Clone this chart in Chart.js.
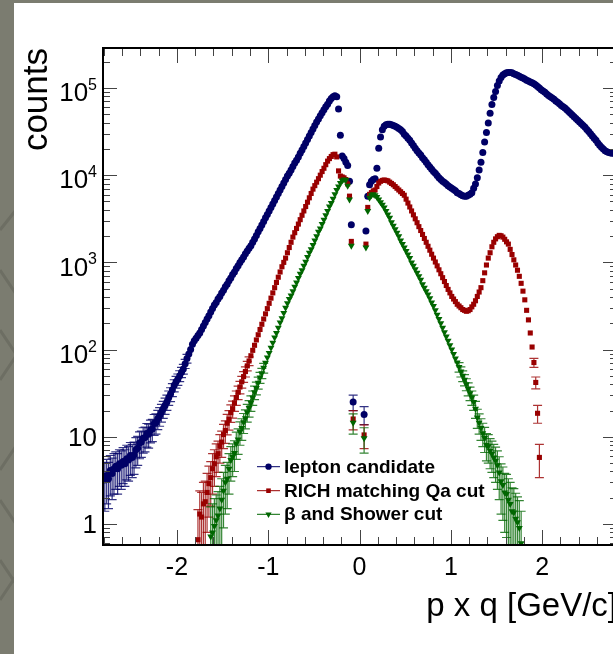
<!DOCTYPE html>
<html><head><meta charset="utf-8">
<script src="https://cdn.jsdelivr.net/npm/chart.js@4.4.1/dist/chart.umd.min.js"></script>
<style>
html,body{margin:0;padding:0;overflow:hidden;width:613px;height:654px;}
body{background-color:#7b7c70;background-image:url("data:image/svg+xml;utf8,<svg xmlns='http://www.w3.org/2000/svg' width='20' height='654'><g stroke='%236d6e63' stroke-width='3' fill='none'><path d='M0 230 L20 205'/><path d='M0 270 L20 300'/><path d='M0 330 L20 360'/><path d='M0 380 L20 350'/><path d='M0 470 L20 440'/><path d='M0 500 L20 530'/><path d='M0 560 L20 590'/><path d='M0 600 L20 570'/></g></svg>");background-repeat:no-repeat;}
#wrap{position:absolute;left:14px;top:3px;width:616px;height:651px;background:#fff;}
canvas{display:block;}
</style></head><body>
<div id="wrap"><canvas id="c" width="616" height="651"></canvas></div>
<script>
// ---------- data ----------
const binWidth = 0.02;
const xTickValues = [-2, -1, 0, 1, 2];
const xTickLabels = ['-2', '-1', '0', '1', '2'];
const yTickValues = [1, 10, 100, 1000, 10000, 100000];
const yTickBase = ['1', '10', '10', '10', '10', '10'];
const yTickExp = ['', '', '2', '3', '4', '5'];
const seriesNames = ['lepton candidate', 'RICH matching Qa cut', 'β and Shower cut'];

const leptonStart = -2.79;
const leptonCounts = [
3.2,3.6,3.3,4.1,3.8,4.3,4.6,4.3,4.9,4.7,
5.2,4.9,5.6,5.4,6.1,5.8,6.2,7.1,7.4,8.5,
8.7,9.6,9.8,10.9,10.7,12.0,12.3,14.2,14.5,16.1,
17.4,19.1,20.9,22.9,25.1,28.2,30.9,34.7,38.9,42.7,
45.7,50.1,55,60,69,79,89,100,115,126,
135,145,155,170,186,204,224,245,269,295,
324,347,380,407,447,479,525,562,617,661,
724,776,851,912,1000,1070,1150,1260,1350,1450,
1550,1700,1860,2040,2240,2450,2690,2950,3240,3550,
3890,4270,4680,5130,5620,6170,6760,7410,8130,8910,
9770,10500,11500,12600,13800,14800,16200,17800,19500,21400,
23400,25700,28200,30900,33900,37200,40700,44200,47900,51900,
56200,61000,65300,70800,75900,79400,81300,79400,57500,28800,
16600,15500,14100,12900,8500,2700,25,null,null,null,
null,null,18,2290,5750,7760,8510,8910,9120,12000,
20400,27500,33100,36300,38000,38500,38500,38000,37200,36300,
35500,34300,33100,31600,29500,28200,26600,25100,23400,21900,
20400,19100,18000,17000,15800,15000,14100,13200,12400,11700,
11000,10500,9890,9330,8910,8510,8220,7940,7590,7330,
7080,6840,6610,6310,6170,5960,5820,5750,5750,5890,
6030,6310,7080,7940,9330,11500,14100,18200,24000,30900,
39800,51300,64600,77600,91200,107000,120000,132000,141000,146000,
150000,151000,151000,150000,146000,143000,140000,136000,133000,130000,
127000,123000,120000,117000,115000,112000,108000,104000,100000,95500,
92300,89100,85100,82200,79400,76700,74100,70800,68400,66100,
63100,61000,58900,56200,53700,51300,49000,46800,44700,42700,
40700,38900,37200,35500,33500,31600,29900,28200,26600,25100,
23400,22100,20900,20000,19100,18600,18200,18000,17800,17800
];
const leptonErrors = [
1.8,1.9,1.8,2.0,1.9,2.1,2.1,2.1,2.2,2.2,
2.3,2.2,2.4,2.3,2.5,2.4,2.5,2.7,2.7,2.9,
2.9,3.1,3.1,3.3,3.3,3.5,3.5,3.8,3.8,4.0,
4.2,4.4,4.6,4.8,5.0,5.3,5.6,5.9,6.2,6.5,
6.8,7.1,7.4,7.7,8.3,8.9,9.4,10,10.7,11.2,
11.6,12,12.4,13,13.6,14.3,15,15.7,16.4,17.2,
18,18.6,19.5,20.2,21.1,21.9,22.9,23.7,24.8,25.7,
26.9,27.9,29.2,30.2,0,0,0,0,0,0,
0,0,0,0,0,0,0,0,0,0,
0,0,0,0,0,0,0,0,0,0,
0,0,0,0,0,0,0,0,0,0,
0,0,0,0,0,0,0,0,0,0,
0,0,0,0,0,0,0,0,0,0,
0,0,0,0,0,0,5.0,0,0,0,
0,0,4.2,0,0,0,0,0,0,0,
0,0,0,0,0,0,0,0,0,0,
0,0,0,0,0,0,0,0,0,0,
0,0,0,0,0,0,0,0,0,0,
0,0,0,0,0,0,0,0,0,0,
0,0,0,0,0,0,0,0,0,0,
0,0,0,0,0,0,0,0,0,0,
0,0,0,0,0,0,0,0,0,0,
0,0,0,0,0,0,0,0,0,0,
0,0,0,0,0,0,0,0,0,0,
0,0,0,0,0,0,0,0,0,0,
0,0,0,0,0,0,0,0,0,0,
0,0,0,0,0,0,0,0,0,0,
0,0,0,0,0,0,0,0,0,0
];

const richStart = -1.77;
const richCounts = [
0.66,1.3,1.2,1.7,1.8,2.3,2.9,3.4,4.3,4.9,
5.9,6.4,7.8,8.7,10.6,11.8,14.3,15.9,18.9,21.0,
24.5,28.2,32.4,37.2,42.7,49,56,65,74,85,
98,112,129,148,170,195,224,257,295,339,
389,447,513,589,676,776,891,1000,1120,1290,
1480,1700,1950,2190,2450,2750,3090,3470,3890,4370,
4900,5500,6170,6920,7590,8320,9120,10000,11000,12000,
13200,14500,15500,16400,17200,17400,16200,11200,9770,9550,
9330,8910,7940,5750,1740,16,null,null,null,null,
null,10.5,1620,4270,6030,6310,6610,6760,7410,8130,
8510,8710,8810,8710,8610,8320,8040,7760,7410,7080,
6760,6460,6170,5890,5310,4790,4320,3890,3510,3160,
2850,2570,2320,2090,1880,1700,1530,1380,1240,1120,
1010,912,822,741,668,603,543,490,447,407,
380,355,331,316,302,288,282,275,279,288,
309,331,363,407,457,513,617,759,933,1120,
1290,1510,1700,1860,1970,2040,2020,1950,1840,1720,
1620,1410,1230,1070,933,813,692,575,468,372,
282,219,155,107,71,42,18.6,5.8
];
const richErrors = [
0.8,1.1,1.1,1.3,1.3,1.5,1.7,1.8,2.1,2.2,
2.4,2.5,2.8,2.9,3.3,3.4,3.8,4.0,4.3,4.6,
4.9,5.3,5.7,6.1,6.5,7,7.5,8.1,8.6,9.2,
9.9,10.6,11.4,12.2,13,14,15,16,17.2,18.4,
19.7,21.1,22.6,24.3,26,27.9,29.8,0,0,0,
0,0,0,0,0,0,0,0,0,0,
0,0,0,0,0,0,0,0,0,0,
0,0,0,0,0,0,0,0,0,0,
0,0,0,0,0,4.0,0,0,0,0,
0,3.2,0,0,0,0,0,0,0,0,
0,0,0,0,0,0,0,0,0,0,
0,0,0,0,0,0,0,0,0,0,
0,0,0,0,0,0,0,0,0,0,
0,30.2,28.7,27.2,25.8,24.6,23.3,22.1,21.1,20.2,
19.5,18.8,18.2,17.8,17.4,17.0,16.8,16.6,16.7,17.0,
17.6,18.2,19.1,20.2,21.4,22.6,24.8,27.5,30.5,0,
0,0,0,0,0,0,0,0,0,0,
0,0,0,0,30.5,28.5,26.3,24.0,21.6,19.3,
16.8,14.8,12.4,10.3,8.4,6.5,4.3,2.4
];

const showerStart = -1.63;
const showerCounts = [
0.72,0.8,0.95,1.1,1.25,1.5,1.9,2.4,3.0,3.3,
4.3,5.4,5.9,6.5,8.4,9.3,11.4,12.6,14.7,16.3,
19.1,21.4,24.5,28.2,32.4,36.3,41.7,47.9,53.7,61.7,
70.8,81.3,91.2,105,120,138,155,178,204,229,
263,302,339,380,417,468,525,589,661,741,
813,912,1020,1150,1290,1410,1580,1780,2000,2240,
2450,2750,3090,3470,3890,4370,4790,5370,6030,6760,
7410,8130,8710,8910,8810,7590,5250,1550,14.5,null,
null,null,null,null,9.6,1480,3890,5500,5890,6030,
5890,5620,5250,4900,4570,4270,3890,3550,3240,2880,
2630,2400,2190,2000,1780,1620,1480,1350,1230,1120,
1000,912,832,759,692,631,562,513,468,427,
389,347,316,282,251,224,200,178,158,141,
126,112,100,89,79,71,63,56,50,45,
40,35.5,31.6,28.2,25.1,20.9,16.6,14.5,12.6,11,
9.7,8.1,7.8,6.9,6.4,5.8,5.3,4.7,3.9,3.1,
2.8,2.3,2.2,1.9,1.7,1.4,1.35,1.15,1.05,0.9,
0.6
];
const showerErrors = [
0.85,0.9,1.0,1.05,1.1,1.2,1.4,1.5,1.7,1.8,
2.1,2.3,2.4,2.5,2.9,3.0,3.4,3.5,3.8,4.0,
4.4,4.6,4.9,5.3,5.7,6.0,6.5,6.9,7.3,7.9,
8.4,9.0,9.5,10.2,11.0,11.7,12.4,13.3,14.3,15.1,
16.2,17.4,18.4,19.5,20.4,21.6,22.9,24.3,25.7,27.2,
28.5,30.2,0,0,0,0,0,0,0,0,
0,0,0,0,0,0,0,0,0,0,
0,0,0,0,0,0,0,0,3.8,0,
0,0,0,0,3.1,0,0,0,0,0,
0,0,0,0,0,0,0,0,0,0,
0,0,0,0,0,0,0,0,0,0,
0,30.2,28.8,27.5,26.3,25.1,23.7,22.6,21.6,20.7,
19.7,18.6,17.8,16.8,15.8,15.0,14.1,13.3,12.6,11.9,
11.2,10.6,10,9.4,8.9,8.4,7.9,7.5,7.1,6.7,
6.3,6.0,5.6,5.3,5.0,4.6,4.1,3.8,3.5,3.3,
3.1,2.8,2.8,2.6,2.5,2.4,2.3,2.2,2.0,1.8,
1.7,1.5,1.5,1.4,1.3,1.2,1.2,1.1,1.0,0.95,
0.8
];

// ---------- build ----------
const FONT = '"Liberation Sans", Arial, Helvetica, sans-serif';
function toPoints(start, counts, errors) {
  const pts = [];
  counts.forEach((c, i) => {
    if (c === null) return;
    pts.push({x: Math.round((start + i * binWidth) * 100) / 100, y: c, err: errors[i]});
  });
  return pts;
}
const datasets = [
  {label: seriesNames[0], data: toPoints(leptonStart, leptonCounts, leptonErrors),
   backgroundColor: '#000066', borderColor: '#000066', pointStyle: 'circle', pointRadius: 3.5, pointRotation: 0, order: 3},
  {label: seriesNames[1], data: toPoints(richStart, richCounts, richErrors),
   backgroundColor: '#990000', borderColor: '#990000', pointStyle: 'rect', pointRadius: 3.6, pointRotation: 0, order: 2},
  {label: seriesNames[2], data: toPoints(showerStart, showerCounts, showerErrors),
   backgroundColor: '#006600', borderColor: '#006600', pointStyle: 'triangle', pointRadius: 4.0, pointRotation: 180, order: 1}
];
datasets.forEach(d => { d.pointBorderWidth = 0; d.pointHoverRadius = d.pointRadius; d.showLine = false; });

const errorBars = {
  id: 'errorBars',
  beforeDatasetDraw(chart, args) {
    const ds = chart.data.datasets[args.index];
    const meta = args.meta;
    const ys = chart.scales.y;
    const a = chart.chartArea;
    const ctx = chart.ctx;
    const r = ds.pointRadius, cap = 4.5;
    ctx.save();
    ctx.beginPath(); ctx.rect(a.left, a.top, a.right - a.left, a.bottom - a.top); ctx.clip();
    ctx.strokeStyle = ds.borderColor; ctx.lineWidth = 1.2; ctx.globalAlpha = 0.8;
    meta.data.forEach((pt, i) => {
      const d = ds.data[i];
      if (!d || !d.err) return;
      const yT = ys.getPixelForValue(d.y + d.err);
      const lo = d.y - d.err;
      const yB = lo > 0 ? ys.getPixelForValue(lo) : a.bottom + 10;
      if (pt.y - yT < r + 1 && yB - pt.y < r + 1) return;
      ctx.beginPath();
      ctx.moveTo(pt.x, yT); ctx.lineTo(pt.x, yB);
      ctx.moveTo(pt.x - cap, yT); ctx.lineTo(pt.x + cap, yT);
      if (lo > 0) { ctx.moveTo(pt.x - cap, yB); ctx.lineTo(pt.x + cap, yB); }
      ctx.stroke();
    });
    ctx.restore();
  }
};

const frame = {
  id: 'frame',
  afterDraw(chart) {
    const ctx = chart.ctx, a = chart.chartArea;
    const xs = chart.scales.x, ys = chart.scales.y;
    ctx.save();
    ctx.strokeStyle = '#444'; ctx.lineWidth = 1;
    ctx.beginPath();
    for (let k = -14; k <= 14; k++) {
      const v = k * 0.2;
      const px = Math.round(xs.getPixelForValue(v)) + 0.5;
      if (px < a.left || px > a.right) continue;
      const len = (k % 5 === 0) ? 15 : 8;
      ctx.moveTo(px, a.bottom); ctx.lineTo(px, a.bottom - len);
      ctx.moveTo(px, a.top); ctx.lineTo(px, a.top + len);
    }
    for (let e = -1; e <= 5; e++) {
      for (let m = 1; m <= 9; m++) {
        const v = m * Math.pow(10, e);
        if (v < ys.min || v > ys.max) continue;
        const py = Math.round(ys.getPixelForValue(v)) + 0.5;
        const len = (m === 1) ? 14 : 7;
        ctx.moveTo(a.left, py); ctx.lineTo(a.left + len, py);
        ctx.moveTo(a.right, py); ctx.lineTo(a.right - len, py);
      }
    }
    ctx.stroke();
    ctx.strokeStyle = '#000'; ctx.lineWidth = 2;
    ctx.strokeRect(a.left, a.top, a.right - a.left, a.bottom - a.top);
    ctx.fillStyle = '#000';
    ctx.textAlign = 'right';
    ctx.textBaseline = 'alphabetic';
    const xr = a.left - 6;
    yTickValues.forEach((v, i) => {
      const py = ys.getPixelForValue(v);
      if (yTickExp[i]) {
        ctx.font = '16px ' + FONT;
        const ew = ctx.measureText(yTickExp[i]).width;
        ctx.fillText(yTickExp[i], xr, py + 2);
        ctx.font = '26px ' + FONT;
        ctx.fillText(yTickBase[i], xr - ew, py + 13.3);
      } else {
        ctx.font = '26px ' + FONT;
        ctx.fillText(yTickBase[i], xr, py + 9.3);
      }
    });
    ctx.restore();
  }
};

const legendBox = {
  id: 'legendBox',
  afterDraw(chart) {
    const ctx = chart.ctx;
    const rows = [463.7, 487.7, 511.3];
    ctx.save();
    chart.data.datasets.forEach((ds, i) => {
      const y = rows[i];
      ctx.strokeStyle = ds.borderColor; ctx.lineWidth = 1;
      ctx.beginPath(); ctx.moveTo(243, y); ctx.lineTo(266, y); ctx.stroke();
      ctx.fillStyle = ds.backgroundColor;
      Chart.helpers.drawPoint(ctx, {pointStyle: ds.pointStyle, radius: ds.pointRadius * 0.9, rotation: ds.pointRotation, borderWidth: 0}, 254.5, y);
      ctx.fillStyle = '#000';
      ctx.font = 'bold 19px ' + FONT;
      ctx.textBaseline = 'alphabetic';
      ctx.textAlign = 'left';
      ctx.fillText(ds.label, 270, y + 5.8);
    });
    ctx.restore();
  }
};

new Chart(document.getElementById('c'), {
  type: 'scatter',
  data: {datasets},
  options: {
    responsive: false,
    animation: false,
    layout: {padding: {top: 45, right: 13, left: 0, bottom: 0}},
    plugins: {legend: {display: false}, tooltip: {enabled: false}},
    scales: {
      x: {
        type: 'linear', min: -2.81, max: 2.82,
        afterFit(s) { s.height = 109; },
        afterBuildTicks(s) { s.ticks = xTickValues.map(v => ({value: v})); },
        ticks: {callback: (v, i) => xTickLabels[i], font: {size: 25, family: FONT}, color: '#000', padding: 8, maxRotation: 0, autoSkip: false},
        grid: {display: false, drawTicks: false},
        border: {display: false},
        title: {display: true, text: 'p x q [GeV/c]', align: 'end', color: '#000', font: {size: 33, family: FONT}, padding: {top: 0, bottom: 27}}
      },
      y: {
        type: 'logarithmic', min: 0.574, max: 287500,
        afterFit(s) { s.width = 89; },
        afterBuildTicks(s) { s.ticks = yTickValues.map(v => ({value: v})); },
        ticks: {display: false},
        grid: {display: false, drawTicks: false},
        border: {display: false},
        title: {display: true, text: 'counts', align: 'end', color: '#000', font: {size: 35, family: FONT}, padding: {top: 2, bottom: 0}}
      }
    }
  },
  plugins: [errorBars, frame, legendBox]
});
</script>
</body></html>
